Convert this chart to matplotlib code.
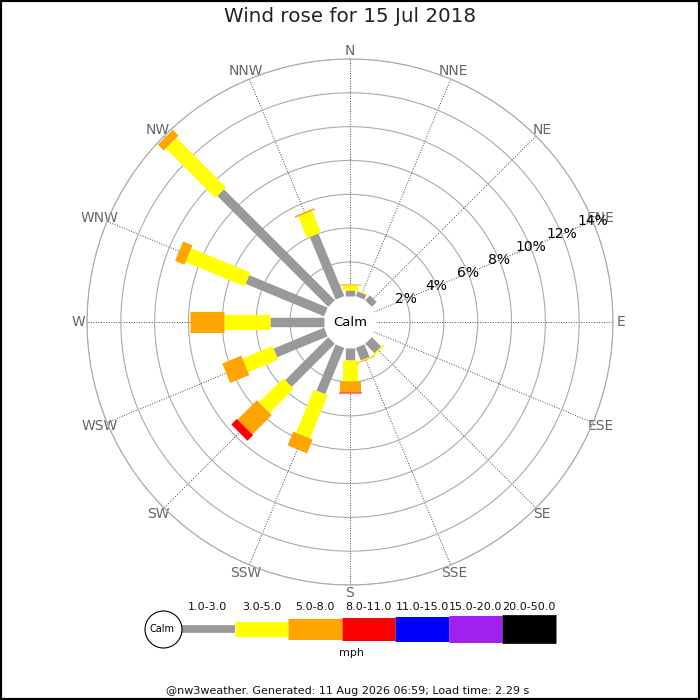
import numpy as np
import matplotlib
matplotlib.use("Agg")
import matplotlib.pyplot as plt
from matplotlib.patches import Rectangle

# ---------------- data ----------------
directions = ['N', 'NNE', 'NE', 'ENE', 'E', 'ESE', 'SE', 'SSE',
              'S', 'SSW', 'SW', 'WSW', 'W', 'WNW', 'NW', 'NNW']
speed_bins = ['1.0-3.0', '3.0-5.0', '5.0-8.0', '8.0-11.0',
              '11.0-15.0', '15.0-20.0', '20.0-50.0']
bin_colors = ['#999999', '#ffff00', '#ffa500', '#ff0000',
              '#0000ff', '#a020f0', '#000000']

# percentage of time in each direction for each speed class
pct_1_3   = [0.35, 0.30, 0.40, 0, 0, 0, 0.78, 0.80, 0.70, 2.96, 3.60, 3.23, 3.19, 5.02, 9.27, 4.00]
pct_3_5   = [0.30, 0.05, 0,    0, 0, 0, 0.10, 0.05, 1.23, 2.76, 2.02, 1.92, 2.70, 3.77, 4.14, 1.38]
pct_5_8   = [0.07, 0,    0,    0, 0, 0, 0,    0.05, 0.64, 0.88, 1.61, 1.22, 2.03, 0.60, 0.49, 0.10]
pct_8_11  = [0,    0,    0,    0, 0, 0, 0,    0,    0.08, 0,    0.47, 0,    0,    0,    0,    0]
pct_11_15 = [0] * 16
pct_15_20 = [0] * 16
pct_20_50 = [0] * 16
class_pcts = [pct_1_3, pct_3_5, pct_5_8, pct_8_11, pct_11_15, pct_15_20, pct_20_50]

ring_ticks = [2, 4, 6, 8, 10, 12, 14]
title = 'Wind rose for 15 Jul 2018'
footer = '@nw3weather. Generated: 11 Aug 2026 06:59; Load time: 2.29 s'

# ---------------- styles ----------------
PX = 0.72  # points per pixel at dpi 100
bar_widths_px = [9.4, 15, 21, 23, 25, 27, 28.7]
leg_widths_px = [7.7, 15, 21, 23, 25, 27, 28.7]
calm_r = 1.55  # calm circle radius in % units

fig = plt.figure(figsize=(7, 7), dpi=100)
fig.patch.set_facecolor('white')

ax = fig.add_axes([87 / 700, 115 / 700, 526 / 700, 526 / 700], projection='polar')
ax.set_theta_zero_location('N')
ax.set_theta_direction(-1)
ax.set_ylim(0, 14)
ax.set_rorigin(-calm_r)

thetas = np.radians(np.arange(16) * 22.5)
ax.set_xticks(thetas)
ax.set_xticklabels(directions, fontsize=10, color='#666666')
ax.tick_params(axis='x', pad=-1, length=0)
ax.set_yticks(ring_ticks)
ax.set_yticklabels([])
ax.tick_params(axis='y', length=0)

ax.yaxis.grid(True, color='#aaaaaa', linewidth=0.8, linestyle='-')
ax.xaxis.grid(True, color='#444444', linewidth=0.7, linestyle=(0, (1, 1.6)))
ax.spines['polar'].set_color('#aaaaaa')
ax.spines['polar'].set_linewidth(0.8)
ax.spines['inner'].set_linewidth(0)
ax.spines['inner'].set_edgecolor('none')

# stacked legs
cum = np.zeros(16)
for k, vals in enumerate(class_pcts):
    vals = np.asarray(vals, dtype=float)
    for i in range(16):
        if vals[i] > 0:
            ax.plot([thetas[i], thetas[i]], [cum[i], cum[i] + vals[i]],
                    color=bin_colors[k], linewidth=bar_widths_px[k] * PX,
                    solid_capstyle='butt', zorder=3 + k, clip_on=False)
    cum = cum + vals

# radial percent labels along ENE
for r in ring_ticks:
    ax.text(np.radians(67.5), r, f'{r}%', ha='center', va='center',
            fontsize=10, color='black', zorder=10)

ax.text(0.5, 0.5, 'Calm', transform=ax.transAxes, ha='center', va='center',
        fontsize=9.5, color='black', zorder=10)

fig.text(0.5, 1 - 17 / 700, title, ha='center', va='center', fontsize=14.3, color='#222222')

# ---------------- legend ----------------
seg_px = (556 - 181) / 7
lax = fig.add_axes([181 / 700, (700 - 629 - 30) / 700, 375 / 700, 60 / 700])
lax.set_xlim(0, 7)
lax.set_ylim(-1, 1)
lax.axis('off')
for k, lab in enumerate(speed_bins):
    lax.plot([k, k + 1], [0, 0], color=bin_colors[k], linewidth=leg_widths_px[k] * PX,
             solid_capstyle='butt', clip_on=False)
    lax.annotate(lab, (k + 0.5, 0), xytext=(0, 22 * PX), textcoords='offset points',
                 ha='center', va='center', fontsize=8, color='#111111')
calm_x = -(181 - 162.5) / seg_px
lax.plot([calm_x], [0], marker='o', markersize=37 * PX, markerfacecolor='white',
         markeredgecolor='black', markeredgewidth=0.8, clip_on=False, zorder=5)
lax.text(calm_x, 0, 'Calm', ha='center', va='center', fontsize=7, zorder=6)

fig.text(351 / 700, 1 - 653 / 700, 'mph', ha='center', va='center', fontsize=8, color='#111111')
fig.text(348 / 700, 1 - 691 / 700, footer, ha='center', va='center', fontsize=8, color='#111111')

fig.patches.append(Rectangle((0, 0), 1, 1, transform=fig.transFigure, fill=False,
                             edgecolor='black', linewidth=3, zorder=100))

fig.savefig('out.png', dpi=100, facecolor='white')
